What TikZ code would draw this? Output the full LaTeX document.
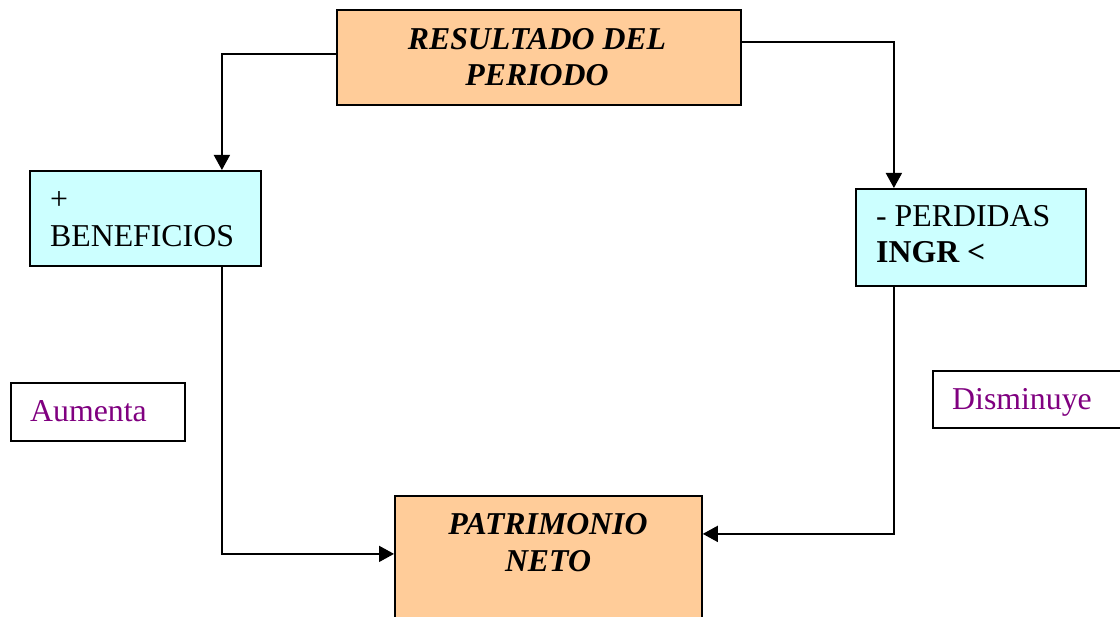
\documentclass[tikz,border=0pt]{standalone}
\usepackage{fontspec}
\setmainfont{Liberation Serif}
\usetikzlibrary{arrows.meta}
\definecolor{peach}{HTML}{FFCC99}
\definecolor{cyanbox}{HTML}{CCFFFF}
\definecolor{purp}{HTML}{800080}
\tikzset{
  box/.style={draw=black, line width=1.8pt, anchor=north west, inner sep=0pt},
  orangebox/.style={box, fill=peach},
  bluebox/.style={box, fill=cyanbox},
  whitebox/.style={box, fill=white},
  txt/.style={inner sep=0pt, font=\fontsize{31.8pt}{37pt}\selectfont},
  ttl/.style={txt, anchor=base, font=\fontsize{31.8pt}{37pt}\selectfont\bfseries\itshape},
  lefttxt/.style={txt, anchor=base west},
  purptxt/.style={txt, anchor=base west, text=purp},
  conn/.style={draw=black, line width=1.7pt, -{Triangle[length=15pt,width=16pt]}}
}
\begin{document}
\begin{tikzpicture}[x=1pt, y=-1pt]
\useasboundingbox (0,0) rectangle (1120,617);
% boxes
\node[orangebox, minimum width=404pt, minimum height=95pt] (top) at (336,9) {};
\node[bluebox, minimum width=231pt, minimum height=95pt] (ben) at (29,170) {};
\node[bluebox, minimum width=230pt, minimum height=97pt] (per) at (855,188) {};
\node[orangebox, minimum width=307pt, minimum height=150pt] (pn) at (394,495) {};
\node[whitebox, minimum width=174pt, minimum height=58pt] (aum) at (10,382) {};
\node[whitebox, minimum width=200pt, minimum height=57pt] (dis) at (932,370) {};
% texts
\node[ttl] (top1) at (537,50) {RESULTADO DEL};
\node[ttl] (top2) at (537,86) {PERIODO};
\node[lefttxt] (ben1) at (50,210) {+};
\node[lefttxt] (ben2) at (50,247) {BENEFICIOS};
\node[lefttxt] (per1) at (876,227) {- PERDIDAS};
\node[lefttxt, font=\fontsize{31.8pt}{37pt}\selectfont\bfseries] (per2) at (876,263) {INGR <};
\node[ttl] (pn1) at (548,535) {PATRIMONIO};
\node[ttl] (pn2) at (548,572) {NETO};
\node[purptxt] (aumt) at (30,422) {Aumenta};
\node[purptxt] (dist) at (952,410) {Disminuye};
% connectors
\draw[conn] ([yshift=3.5pt]top.west) -| ([xshift=76.5pt]ben.north);
\draw[conn] ([yshift=15.5pt]top.east) -| ([xshift=-77pt]per.north);
\draw[conn] ([xshift=76.5pt]ben.south) |- ([yshift=17pt]pn.west);
\draw[conn] ([xshift=-77pt]per.south) |- ([yshift=37pt]pn.east);
\end{tikzpicture}
\end{document}
